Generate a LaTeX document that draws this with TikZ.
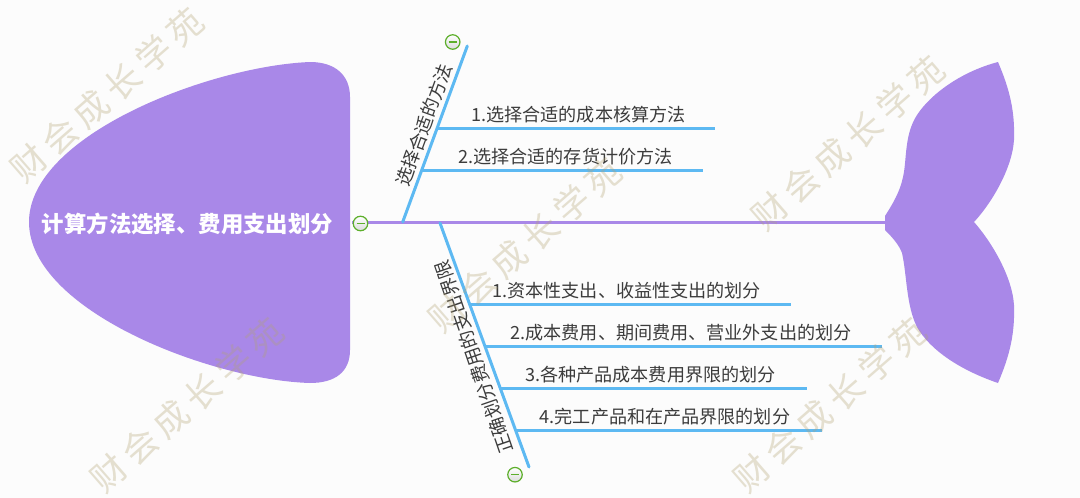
\documentclass[tikz,border=0pt]{standalone}
\usepackage{fontspec}
\setmainfont{Noto Sans CJK SC}
\definecolor{fish}{HTML}{A988E8}
\definecolor{bone}{HTML}{5DB9F2}
\definecolor{wm}{HTML}{B2A273}
\definecolor{ink}{HTML}{3C3C3C}
\definecolor{tog}{HTML}{5DAF2B}
\tikzset{
 wmark/.style={text=wm,text opacity=.32,font=\fontsize{35}{35}\selectfont\addfontfeature{LetterSpace=18},rotate=41,inner sep=0pt},
 spine/.style={draw=fish,line width=3pt},
 bigbone/.style={draw=bone,line width=3pt,line cap=round},
 smallbone/.style={draw=bone,line width=3pt},
 lab/.style={text=ink,font=\fontsize{18.1}{18}\selectfont,inner sep=0pt,anchor=base},
 blab/.style={text=ink,font=\fontsize{18.4}{18}\selectfont,inner sep=0pt,anchor=center},
 toggle/.style={circle,draw=tog,line width=1.2pt,minimum size=14.5pt,inner sep=0pt,top color=white,bottom color=black!14},
 togbar/.style={draw=tog,line width=1.4pt},
}
\begin{document}
\begin{tikzpicture}[x=1pt,y=-1pt]
\useasboundingbox[fill=white!99!black] (0,0) rectangle (1080,498);
% head
\fill[fish] (350,97) .. controls (350,75) and (335,62) .. (310,62)
 .. controls (210,66) and (29,135) .. (29,222)
 .. controls (29,310) and (210,380) .. (310,383)
 .. controls (335,383) and (350,372) .. (350,350) -- cycle;
\node[text=white,font=\bfseries\fontsize{22.4}{22}\selectfont,inner sep=0pt] (head) at (187.5,224) {计算方法选择、费用支出划分};
% tail
\fill[fish] (885,216) .. controls (892,205) and (900,192) .. (903,177)
 .. controls (907,160) and (904,135) .. (917,115)
 .. controls (930,95) and (960,72) .. (998,62)
 .. controls (1010,90) and (1015,112) .. (1014,140)
 .. controls (1012,170) and (990,205) .. (974,222)
 .. controls (990,240) and (1012,275) .. (1014,305)
 .. controls (1015,333) and (1010,355) .. (998,383)
 .. controls (960,370) and (930,350) .. (917,327)
 .. controls (906,305) and (907,275) .. (902,253)
 .. controls (899,245) and (893,238) .. (885,230) -- cycle;
% spine
\coordinate (sa) at (352,222);
\coordinate (sb) at (886,222);
\draw[spine] (sa) -- (sb);
% upper bone
\coordinate (u0) at (402.7,222);
\coordinate (u1) at (467.3,46);
\coordinate (u2) at (436.7,128);
\coordinate (u3) at (421.7,170);
\coordinate (ue2) at (715,128);
\coordinate (ue3) at (702.7,170);
\draw[bigbone] (u0) -- (u1);
\draw[smallbone] (u2) -- (ue2);
\draw[smallbone] (u3) -- (ue3);
\node[blab,rotate=70] (ut) at (424,125) {选择合适的方法};
\node[lab] (l1) at (578.5,121.5) {1.选择合适的成本核算方法};
\node[lab] (l2) at (565.5,163.5) {2.选择合适的存货计价方法};
% lower bone
\coordinate (d0) at (440,223);
\coordinate (d1) at (529,467);
\coordinate (d2) at (470,304);
\coordinate (d3) at (485,346);
\coordinate (d4) at (500,388);
\coordinate (d5) at (515.5,430);
\coordinate (de2) at (790.7,304);
\coordinate (de3) at (882.3,346);
\coordinate (de4) at (806.7,388);
\coordinate (de5) at (821.7,430);
\draw[bigbone] (d0) -- (d1);
\draw[smallbone] (d2) -- (de2);
\draw[smallbone] (d3) -- (de3);
\draw[smallbone] (d4) -- (de4);
\draw[smallbone] (d5) -- (de5);
\node[blab,rotate=109] (dt) at (473.5,357) {正确划分费用的支出界限};
\node[lab] (l3) at (626.7,297) {1.资本性支出、收益性支出的划分};
\node[lab] (l4) at (681,339.5) {2.成本费用、期间费用、营业外支出的划分};
\node[lab] (l5) at (650.5,381.5) {3.各种产品成本费用界限的划分};
\node[lab] (l6) at (665,423.5) {4.完工产品和在产品界限的划分};
% toggles
\node[toggle] (t1) at (360.5,223.5) {};
\node[toggle] (t2) at (452.7,42) {};
\node[toggle] (t3) at (515,474.7) {};
\foreach \n in {t1,t2,t3}{
 \draw[togbar] ([xshift=-4pt]\n.center) -- ([xshift=4pt]\n.center);
}
% watermarks
\node[wmark] (w1) at (107,95) {财会成长学苑};
\node[wmark] (w2) at (525,245) {财会成长学苑};
\node[wmark] (w3) at (187,405) {财会成长学苑};
\node[wmark] (w4) at (848,143) {财会成长学苑};
\node[wmark] (w5) at (830,405) {财会成长学苑};
\end{tikzpicture}
\end{document}
